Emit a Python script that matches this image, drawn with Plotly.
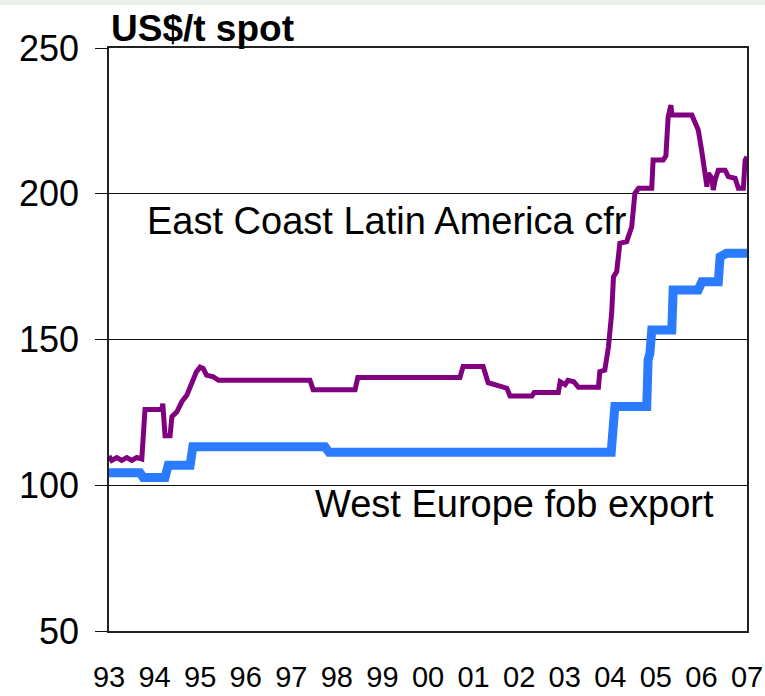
import plotly.graph_objects as go

# East Coast Latin America cfr (US$/t spot)
ec_x = [1993.00, 1993.06, 1993.17, 1993.28, 1993.39, 1993.50, 1993.61, 1993.72, 1993.79,
        1994.16, 1994.18, 1994.23, 1994.34, 1994.38, 1994.49, 1994.60, 1994.71, 1994.81,
        1994.92, 1995.00, 1995.07, 1995.14, 1995.29, 1995.40, 1997.41, 1997.48, 1998.40,
        1998.46, 2000.70, 2000.77, 2001.21, 2001.32, 2001.47, 2001.73, 2001.80, 2002.28,
        2002.33, 2002.86, 2002.90, 2003.01, 2003.07, 2003.20, 2003.30, 2003.74, 2003.77,
        2003.88, 2003.96, 2004.03, 2004.07, 2004.14, 2004.21, 2004.36, 2004.47, 2004.54,
        2004.62, 2004.91, 2004.94, 2005.16, 2005.22, 2005.27, 2005.33, 2005.35, 2005.79,
        2005.86, 2005.93, 2006.01, 2006.08, 2006.12, 2006.15, 2006.23, 2006.26, 2006.30,
        2006.37, 2006.52, 2006.59, 2006.74, 2006.81, 2006.92, 2006.96, 2007.00]
ec_y = [110, 108.5, 109.5, 108.5, 109.5, 108.5, 109.5, 109, 126,
        126, 128, 117, 117, 123.5, 125.2, 128.7, 131, 134.4,
        139, 140.5, 140, 137.8, 137.2, 136, 136, 132.8, 132.8,
        137, 137, 140.7, 140.7, 135.2, 134.4, 133.3, 130.6, 130.6,
        131.8, 131.8, 135.5, 134.5, 136, 135.5, 133.6, 133.6, 139,
        139.5, 147.5, 159, 171.5, 173.3, 183, 183.6, 188.7, 200.1,
        201.9, 201.9, 211.6, 211.6, 213, 226.4, 230.4, 227, 227,
        224.7, 221.9, 214.4, 205.9, 202.4, 207, 205.3, 201.3, 204.7,
        208.1, 208.1, 205.9, 205.3, 201.9, 201.9, 211.6, 212.7]

# West Europe fob export (US$/t spot)
we_x = [1993.00, 1993.68, 1993.75, 1994.23, 1994.30, 1994.78, 1994.84, 1997.74, 1997.83,
        2004.02, 2004.10, 2004.80, 2004.83, 2004.87, 2004.91, 2005.35, 2005.38, 2005.93,
        2006.01, 2006.37, 2006.41, 2006.55, 2007.00]
we_y = [104.3, 104.3, 102.7, 102.7, 106.9, 106.9, 113.2, 113.2, 111.3,
        111.3, 127, 127, 143, 145.3, 153.3, 153.3, 167, 167,
        169.8, 169.8, 178.4, 179.6, 179.6]

year_ticks = list(range(1993, 2008))
year_labels = ["93", "94", "95", "96", "97", "98", "99", "00", "01", "02", "03", "04", "05", "06", "07"]
y_ticks = [50, 100, 150, 200, 250]

FONT = "Arial, Liberation Sans, sans-serif"

fig = go.Figure()
fig.add_trace(go.Scatter(x=ec_x, y=ec_y, mode="lines",
                         line=dict(color="#800080", width=5), name="East Coast Latin America cfr"))
fig.add_trace(go.Scatter(x=we_x, y=we_y, mode="lines",
                         line=dict(color="#2b7bff", width=9), name="West Europe fob export"))

fig.add_annotation(x=1993.79, y=190.6, xref="x", yref="y", text="East Coast Latin America cfr",
                   showarrow=False, xanchor="left", yanchor="middle",
                   font=dict(family=FONT, size=38, color="black"))
fig.add_annotation(x=1997.48, y=93.4, xref="x", yref="y", text="West Europe fob export",
                   showarrow=False, xanchor="left", yanchor="middle",
                   font=dict(family=FONT, size=38, color="black"))
fig.add_annotation(x=0.0, y=1.0326, xref="paper", yref="paper", text="<b>US$/t spot</b>",
                   showarrow=False, xanchor="left", yanchor="middle",
                   font=dict(family=FONT, size=37, color="black"))

fig.add_shape(type="rect", xref="paper", yref="paper", x0=-0.2, x1=1.1, y0=1.0738, y1=1.1,
              fillcolor="#eaefea", line=dict(width=0), layer="below")

fig.update_layout(
    width=765, height=696,
    margin=dict(l=109, r=18, t=48, b=65, autoexpand=False),
    paper_bgcolor="white", plot_bgcolor="white",
    showlegend=False,
    font=dict(family=FONT, color="black"),
)
fig.update_xaxes(range=[1993, 2007], tickvals=year_ticks, ticktext=year_labels,
                 showgrid=False, zeroline=False, showline=True, mirror=True, automargin=False,
                 linecolor="#222", linewidth=1.5, ticks="", ticklabelstandoff=19,
                 tickfont=dict(family=FONT, size=29, color="black"))
fig.update_yaxes(range=[50, 250], tickvals=y_ticks, showgrid=True, gridcolor="#111", gridwidth=1.3,
                 zeroline=False, showline=True, mirror=True, linecolor="#222", linewidth=1.5,
                 automargin=False,
                 ticks="outside", ticklen=12, tickcolor="#111", tickwidth=1.3,
                 ticklabelstandoff=9,
                 tickfont=dict(family=FONT, size=36, color="black"))

fig.write_html("out.html", config={"displayModeBar": False},
               post_script="document.body.style.margin='0';document.body.style.overflow='hidden';")
